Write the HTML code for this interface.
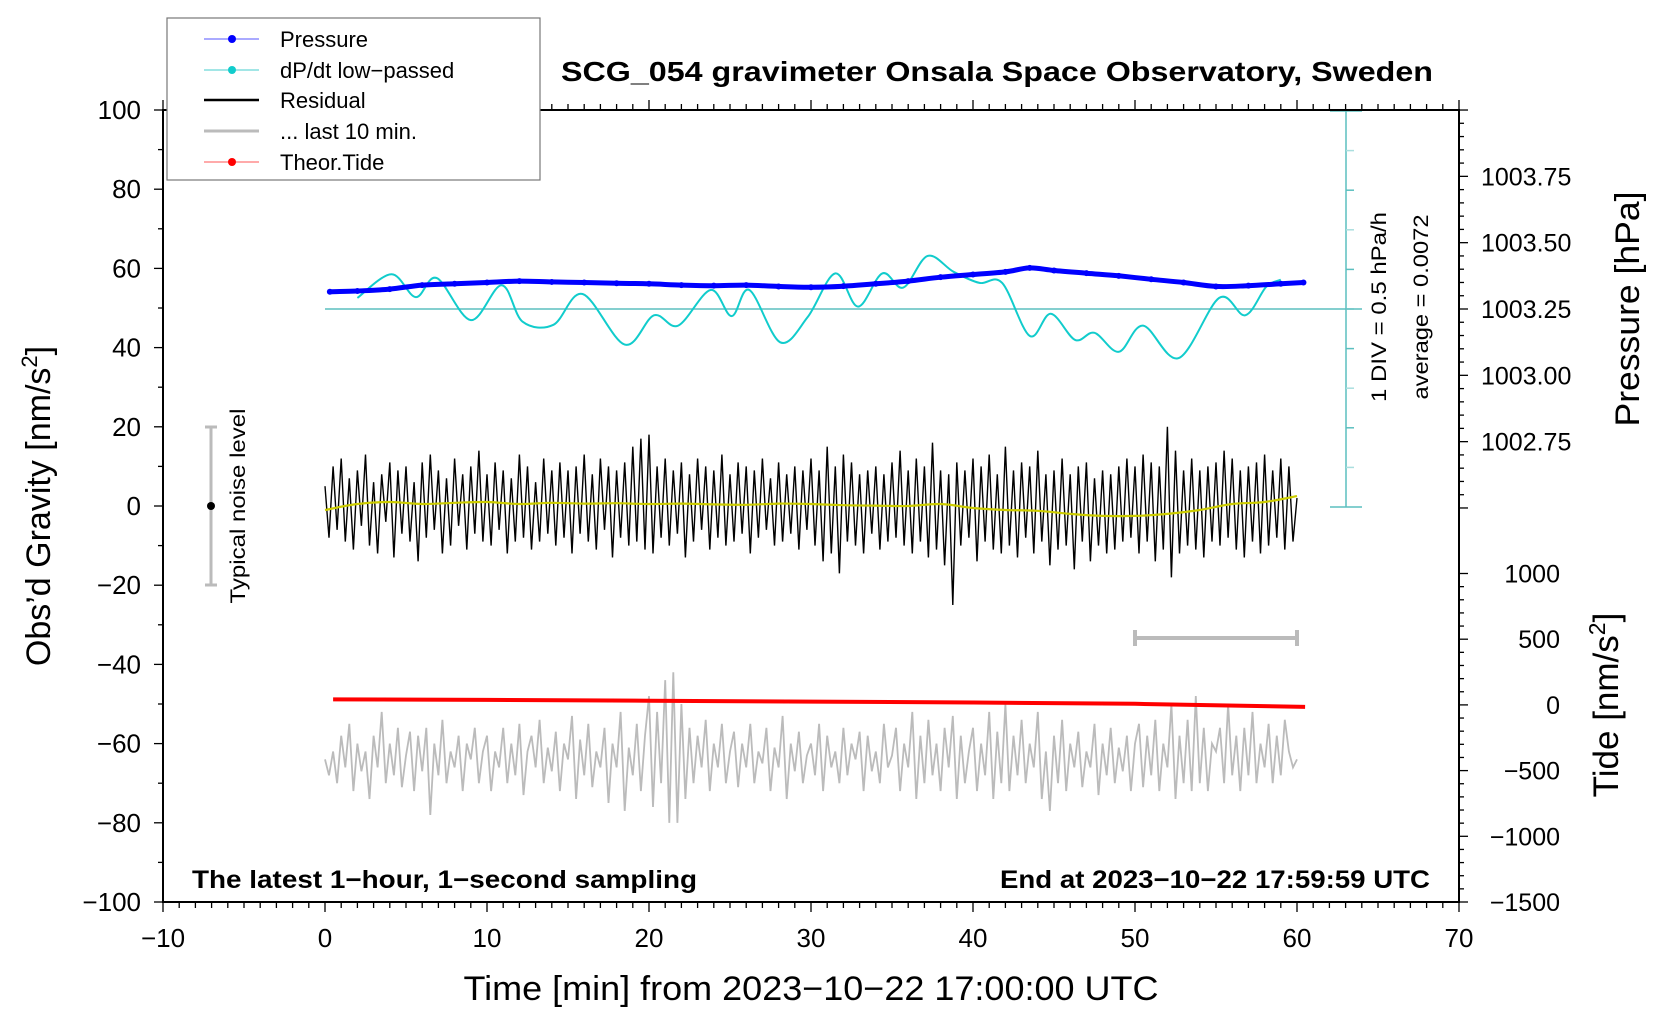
<!DOCTYPE html>
<html><head><meta charset="utf-8"><style>
html,body{margin:0;padding:0;background:#fff;}
svg{display:block;font-family:"Liberation Sans",Arial,sans-serif;}
</style></head><body>
<svg id="chart" width="1660" height="1020" viewBox="0 0 1660 1020" xmlns="http://www.w3.org/2000/svg">
<rect x="0" y="0" width="1660" height="1020" fill="#fff"/>
<g id="ticks"></g>
<g id="series"></g>
<rect x="163" y="110" width="1296" height="792" fill="none" stroke="#000" stroke-width="2"/>
<text x="997" y="81" text-anchor="middle" font-size="28" font-weight="bold" textLength="872" lengthAdjust="spacingAndGlyphs">SCG_054 gravimeter Onsala Space Observatory, Sweden</text>
<text x="192" y="888" font-size="25" font-weight="bold" textLength="505" lengthAdjust="spacingAndGlyphs">The latest 1−hour, 1−second sampling</text>
<text x="1430" y="888" text-anchor="end" font-size="25" font-weight="bold" textLength="430" lengthAdjust="spacingAndGlyphs">End at 2023−10−22 17:59:59 UTC</text>
<text x="811" y="1000" text-anchor="middle" font-size="34" textLength="695" lengthAdjust="spacingAndGlyphs">Time [min] from 2023−10−22 17:00:00 UTC</text>
<text transform="translate(50,506) rotate(-90)" text-anchor="middle" font-size="34">Obs’d Gravity [nm/s<tspan font-size="22" dy="-13">2</tspan><tspan dy="13">]</tspan></text>
<text transform="translate(1618,705) rotate(-90)" text-anchor="middle" font-size="35">Tide [nm/s<tspan font-size="23" dy="-13">2</tspan><tspan dy="13">]</tspan></text>
<text transform="translate(1639,309) rotate(-90)" text-anchor="middle" font-size="34" textLength="235" lengthAdjust="spacingAndGlyphs">Pressure [hPa]</text>
<text transform="translate(1386,307) rotate(-90)" text-anchor="middle" font-size="21" textLength="190" lengthAdjust="spacingAndGlyphs">1 DIV = 0.5 hPa/h</text>
<text transform="translate(1428,307) rotate(-90)" text-anchor="middle" font-size="21" textLength="185" lengthAdjust="spacingAndGlyphs">average = 0.0072</text>
<text transform="translate(245,506) rotate(-90)" text-anchor="middle" font-size="21" textLength="195" lengthAdjust="spacingAndGlyphs">Typical noise level</text>
<g stroke="#bbb" stroke-width="3">
<line x1="211" y1="427" x2="211" y2="585"/><line x1="205" y1="427" x2="217" y2="427"/><line x1="205" y1="585" x2="217" y2="585"/>
</g>
<circle cx="211" cy="506" r="4" fill="#000"/>
<g stroke="#bbb" stroke-width="4">
<line x1="1135" y1="638" x2="1297" y2="638"/><line x1="1135" y1="630" x2="1135" y2="646"/><line x1="1297" y1="630" x2="1297" y2="646"/>
</g>
<g>
<rect x="167" y="18" width="373" height="162" fill="#fff" stroke="#777" stroke-width="1.2"/>
<g><line x1="204" y1="39" x2="259" y2="39" stroke="#55f" stroke-width="1"/><circle cx="232" cy="39" r="4" fill="#00f"/><text x="280" y="47" font-size="22">Pressure</text></g>
<g><line x1="204" y1="70" x2="259" y2="70" stroke="#4cc" stroke-width="1"/><circle cx="232" cy="70" r="4" fill="#1cc"/><text x="280" y="78" font-size="22">dP/dt low−passed</text></g>
<g><line x1="204" y1="100" x2="259" y2="100" stroke="#000" stroke-width="2.5"/><text x="280" y="108" font-size="22">Residual</text></g>
<g><line x1="204" y1="131" x2="259" y2="131" stroke="#bbb" stroke-width="3"/><text x="280" y="139" font-size="22">... last 10 min.</text></g>
<g><line x1="204" y1="162" x2="259" y2="162" stroke="#f55" stroke-width="1"/><circle cx="232" cy="162" r="4" fill="#f00"/><text x="280" y="170" font-size="22">Theor.Tide</text></g>
</g>
</svg>
<script>
// ---- data ----
var xTicks = [-10,0,10,20,30,40,50,60,70];
var gravTicks = [100,80,60,40,20,0,-20,-40,-60,-80,-100];
var gravTickLabels = ["100","80","60","40","20","0","−20","−40","−60","−80","−100"];
var pressTicks = [1003.75,1003.50,1003.25,1003.00,1002.75];
var pressTickLabels = ["1003.75","1003.50","1003.25","1003.00","1002.75"];
var tideTicks = [1000,500,0,-500,-1000,-1500];
var tideTickLabels = ["1000","500","0","−500","−1000","−1500"];
var pressTimes = [0.3,2,4,6,8,10,12,14,16,18,20,22,24,26,28,30,32,34,36,38,40,42,43.5,45,47,49,51,53,55,57,59,60.4];
var pressValues = [1003.315,1003.318,1003.325,1003.340,1003.345,1003.350,1003.355,1003.352,1003.350,1003.347,1003.345,1003.340,1003.338,1003.340,1003.335,1003.332,1003.336,1003.345,1003.355,1003.370,1003.380,1003.390,1003.405,1003.395,1003.385,1003.375,1003.362,1003.350,1003.335,1003.338,1003.345,1003.350];
var dpTimes = [2,4.1,5.6,6.9,9.0,10.9,12.2,14.1,15.9,18.5,20.3,21.8,23.8,25.1,26.2,28.1,29.8,31.5,32.9,34.4,35.7,37.2,38.8,40.4,41.8,43.5,44.8,46.3,47.5,49.0,50.5,52.7,55.2,56.8,58.1,59.0];
var dpValues = [0.14,0.44,0.15,0.39,-0.14,0.30,-0.16,-0.20,0.19,-0.45,-0.08,-0.21,0.24,-0.09,0.24,-0.42,-0.10,0.45,0.03,0.45,0.27,0.67,0.47,0.33,0.33,-0.34,-0.06,-0.39,-0.30,-0.54,-0.21,-0.62,0.14,-0.08,0.28,0.37];
var residual = [5,-8,10,-6,12,-9,7,-11,9,-5,13,-10,6,-12,8,-4,11,-13,9,-7,
10,-9,6,-14,11,-8,13,-6,9,-12,7,-10,12,-5,8,-11,10,-7,14,-9,
8,-10,11,-6,9,-12,7,-9,13,-8,10,-11,6,-9,12,-7,9,-10,11,-8,
9,-12,10,-7,13,-9,8,-11,12,-6,10,-13,9,-8,11,-10,15,-9,17,-11,
18,-12,10,-8,12,-10,9,-7,11,-13,8,-9,12,-6,10,-11,9,-8,13,-10,
8,-9,11,-7,10,-12,9,-8,12,-6,7,-10,11,-9,8,-7,10,-11,9,-6,
12,-10,9,-14,15,-12,10,-17,13,-9,11,-10,8,-12,9,-7,10,-11,8,-9,
11,-8,14,-10,9,-12,12,-9,10,-13,16,-11,9,-15,8,-25,11,-10,9,-8,
12,-14,10,-9,13,-11,8,-12,15,-10,9,-13,11,-8,10,-12,14,-9,8,-15,
9,-11,12,-10,8,-16,10,-9,11,-14,7,-10,9,-12,8,-11,10,-9,12,-8,
10,-12,13,-9,11,-14,10,-11,20,-18,14,-12,9,-10,12,-11,9,-13,10,-9,
11,-10,14,-8,12,-11,9,-13,10,-9,11,-12,13,-10,9,-8,12,-11,10,-9,2];
var smoothTimes = [0,2,4,6,8,10,12,14,16,18,20,22,24,26,28,30,32,34,36,38,40,42,44,46,48,50,52,54,56,58,60];
var smoothValues = [-1,0.5,1,0.5,0.8,1,0.5,0.8,0.6,0.7,0.5,0.6,0.4,0.3,0.6,0.5,0.2,0.1,0,0.5,-0.5,-1,-1.2,-2,-2.5,-2.5,-2,-1,0.5,1,2.5];
var last10 = [-64,-68,-62,-70,-58,-66,-55,-72,-60,-67,-62,-74,-58,-66,-52,-70,-60,-68,-56,-71,
-63,-57,-72,-58,-67,-56,-78,-60,-68,-54,-70,-62,-66,-58,-72,-60,-64,-56,-70,-62,
-58,-72,-62,-66,-56,-70,-60,-68,-55,-73,-62,-58,-66,-54,-70,-61,-67,-57,-72,-60,
-64,-53,-74,-59,-68,-55,-71,-62,-66,-56,-75,-60,-66,-52,-77,-61,-68,-55,-72,-58,
-48,-76,-52,-70,-44,-80,-42,-80,-50,-74,-56,-70,-58,-66,-54,-72,-60,-66,-55,-70,
-62,-57,-71,-60,-66,-55,-70,-62,-65,-56,-72,-61,-66,-53,-74,-60,-67,-57,-70,-63,
-60,-68,-55,-72,-58,-66,-62,-70,-56,-68,-60,-64,-57,-72,-58,-67,-62,-70,-55,-66,
-63,-56,-72,-60,-66,-52,-74,-58,-70,-54,-68,-60,-72,-56,-66,-53,-74,-58,-70,-62,
-56,-72,-60,-68,-52,-74,-57,-70,-50,-72,-58,-68,-54,-70,-60,-66,-52,-74,-62,-77,
-58,-70,-54,-72,-60,-66,-57,-71,-62,-66,-55,-73,-60,-68,-56,-70,-61,-67,-58,-72,
-60,-55,-71,-58,-68,-54,-72,-60,-66,-50,-74,-58,-70,-54,-72,-48,-70,-56,-72,-60,
-62,-56,-70,-50,-68,-58,-72,-56,-68,-52,-70,-60,-66,-55,-70,-58,-68,-54,-62,-66,-64];
var tideTimes = [0.5,10,20,30,40,50,60.5];
var tideValues = [42,38,32,25,18,8,-15];

// ---- axes ----
function xs(t){return 163+(t+10)*16.2;}
function yg(v){return 506-v*3.96;}
function yp(p){return 309-(p-1003.25)*265.3;}
function yt(v){return 902-(v+1500)*65.7/500;}
var NS="http://www.w3.org/2000/svg";
function mk(tag,attrs,parent){var e=document.createElementNS(NS,tag);for(var k in attrs)e.setAttribute(k,attrs[k]);parent.appendChild(e);return e;}
var tk=document.getElementById('ticks');
var sr=document.getElementById('series');

for(var m=-10;m<=70;m++){
  var L=(m%10===0)?10:6;
  var a=mk('line',{x1:xs(m),x2:xs(m),y1:902,y2:902+L,stroke:'#000','stroke-width':1.3},tk);
  
  
  var b=mk('line',{x1:xs(m),x2:xs(m),y1:110,y2:110-L,stroke:'#000','stroke-width':1.3},tk);
  
  
}
xTicks.forEach(function(t){
  var e=mk('text',{x:xs(t),y:947,'text-anchor':'middle','font-size':26},tk);
  e.textContent=(t<0?'−'+Math.abs(t):String(t));
  
  
});
for(var g=-100;g<=100;g+=10){
  var L2=(g%20===0)?9:5;
  var c=mk('line',{x1:163-L2,x2:163,y1:yg(g),y2:yg(g),stroke:'#000','stroke-width':1.3},tk);
  
  
}
gravTicks.forEach(function(v,i){
  var e=mk('text',{x:141,y:yg(v)+9,'text-anchor':'end','font-size':26},tk);
  e.textContent=gravTickLabels[i];
  
  
});
for(var k=0;k<=30;k++){
  var p=1004.0-k*0.05;
  var major=(k%5===0);
  var d=mk('line',{x1:1459,x2:1459+(major?9:5),y1:yp(p),y2:yp(p),stroke:'#000','stroke-width':1.3},tk);
  
  
}
pressTicks.forEach(function(p,i){
  var e=mk('text',{x:1481,y:yp(p)+9,'font-size':25},tk);
  e.textContent=pressTickLabels[i];
  
  
});
for(var tv=-1500;tv<=1000;tv+=100){
  var mj=(tv%500===0);
  var f=mk('line',{x1:1459,x2:1459+(mj?9:5),y1:yt(tv),y2:yt(tv),stroke:'#000','stroke-width':1.3},tk);
  
  
}
tideTicks.forEach(function(v,i){
  var e=mk('text',{x:1560,y:yt(v)+9,'text-anchor':'end','font-size':25},tk);
  e.textContent=tideTickLabels[i];
  
  
});

var bx=1346;
var sb=mk('line',{x1:bx,x2:bx,y1:111,y2:507,stroke:'#5bbfbf','stroke-width':1.5},tk);


for(var q=0;q<=10;q++){
  var yy=111+q*39.6;
  var ends=(q===0||q===10);
  var tl=mk('line',{x1:ends?bx-16:bx,x2:bx+(ends?16:8),y1:yy,y2:yy,stroke:(q%2===0?'#5bbfbf':'#aadede'),'stroke-width':1.5},tk);
  
  
}
var zl=mk('line',{x1:xs(0),x2:1362,y1:309,y2:309,stroke:'#5bbfbf','stroke-width':1.5},tk);



function smoothPath(pts){
  var d='M'+pts[0][0].toFixed(1)+','+pts[0][1].toFixed(1);
  for(var i=0;i<pts.length-1;i++){
    var p0=pts[i-1]||pts[i],p1=pts[i],p2=pts[i+1],p3=pts[i+2]||p2;
    var c1x=p1[0]+(p2[0]-p0[0])/6,c1y=p1[1]+(p2[1]-p0[1])/6;
    var c2x=p2[0]-(p3[0]-p1[0])/6,c2y=p2[1]-(p3[1]-p1[1])/6;
    d+=' C'+c1x.toFixed(1)+','+c1y.toFixed(1)+' '+c2x.toFixed(1)+','+c2y.toFixed(1)+' '+p2[0].toFixed(1)+','+p2[1].toFixed(1);
  }
  return d;
}
function poly(pts){return pts.map(function(p){return p[0].toFixed(1)+','+p[1].toFixed(1);}).join(' ');}

var gPts=last10.map(function(v,i){return [xs(i*0.25),yg(v)];});
var gl=mk('polyline',{points:poly(gPts),fill:'none',stroke:'#bbb','stroke-width':1.8},sr);



var tPts=tideTimes.map(function(t,i){return [xs(t),yt(tideValues[i])];});
var tl2=mk('polyline',{points:poly(tPts),fill:'none',stroke:'#f00','stroke-width':4},sr);



var rPts=residual.map(function(v,i){return [xs(i*0.25),yg(v)];});
var rl=mk('polyline',{points:poly(rPts),fill:'none',stroke:'#000','stroke-width':1.4},sr);


var sPts=smoothTimes.map(function(t,i){return [xs(t),yg(smoothValues[i])];});
var sl=mk('path',{d:smoothPath(sPts),fill:'none',stroke:'#cc0','stroke-width':2.2},sr);



var dPts=dpTimes.map(function(t,i){return [xs(t),309-dpValues[i]/0.5*39.6];});
var dl=mk('path',{d:smoothPath(dPts),fill:'none',stroke:'#1cc','stroke-width':2},sr);



var pPts=pressTimes.map(function(t,i){return [xs(t),yp(pressValues[i])];});
var pl=mk('path',{d:smoothPath(pPts),fill:'none',stroke:'#00f','stroke-width':5,'stroke-linecap':'round'},sr);


pPts.forEach(function(p){
  var c=mk('circle',{cx:p[0],cy:p[1],r:3,fill:'#00f'},sr);
  
  
});
</script>
</body></html>
